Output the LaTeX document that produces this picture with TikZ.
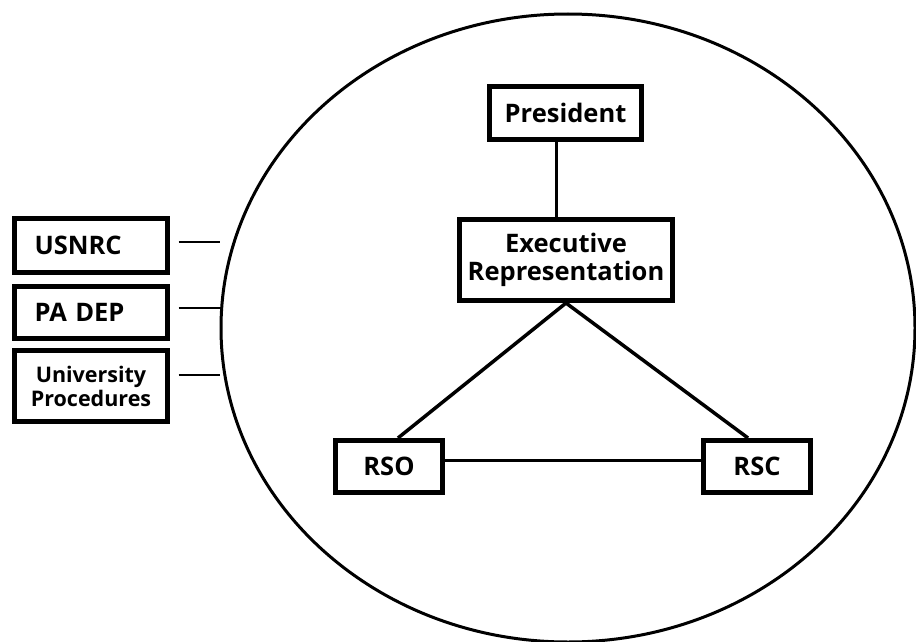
\documentclass[tikz,border=0pt]{standalone}
\usepackage{fontspec}
\setmainfont{Open Sans}
\usetikzlibrary{shapes.geometric}
\tikzset{
  box/.style={draw, line width=5pt, inner sep=0pt, font=\bfseries\fontsize{25.5}{28}\selectfont, align=center},
  sidebox/.style={box, minimum width=153pt, text width=113pt, inner xsep=20pt, align=left},
  link/.style={line width=3.5pt},
  thinlink/.style={line width=1.5pt}
}
\begin{document}
\begin{tikzpicture}[x=1pt,y=-1pt]
\useasboundingbox (0,0) rectangle (916,642);
\node[draw, ellipse, line width=3pt, minimum width=694pt, minimum height=628pt, inner sep=0pt] (circ) at (568,328) {};
\node[box, minimum width=152pt, minimum height=53pt] (pres) at (565.5,113) {President};
\node[box, minimum width=213pt, minimum height=81pt] (exec) at (566,260) {Executive\\Representation};
\node[box, minimum width=107pt, minimum height=52pt] (rso) at (389,466.5) {RSO};
\node[box, minimum width=107pt, minimum height=52pt] (rsc) at (757,466.5) {RSC};
\node[sidebox, minimum height=54pt] (usnrc) at (91,245.5) {USNRC};
\node[sidebox, minimum height=52pt] (padep) at (91,312.5) {PA DEP};
\node[box, minimum width=153pt, minimum height=71pt, font=\bfseries\fontsize{21.5}{24}\selectfont] (univ) at (91,386) {University\\Procedures};
\draw[link] ([xshift=-9pt]pres.south) -- ([xshift=-9pt]pres.south |- exec.north);
\draw[link] (exec.south) -- ([xshift=9pt]rso.north);
\draw[link] (exec.south) -- ([xshift=-9pt]rsc.north);
\draw[link] ([yshift=6pt]rso.east) -- ([yshift=6pt]rsc.west);
\draw[thinlink] ([xshift=8.5pt,yshift=3.5pt]usnrc.east) -- ([yshift=3.5pt]usnrc.east -| circ.west);
\draw[thinlink] ([xshift=8.5pt,yshift=4.5pt]padep.east) -- ([yshift=4.5pt]padep.east -| circ.west);
\draw[thinlink] ([xshift=8.5pt,yshift=11pt]univ.east) -- ([yshift=11pt]univ.east -| circ.west);
\end{tikzpicture}
\end{document}
